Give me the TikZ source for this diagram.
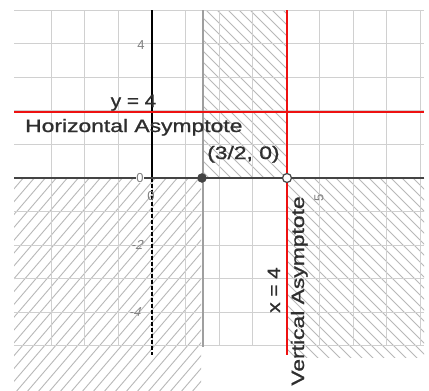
\documentclass[tikz,border=0pt]{standalone}
\usepackage{fontspec}
\setmainfont{Liberation Sans}
\newfontfamily\semib{Liberation Sans}[FakeBold=0.9]
\usepackage{graphicx}
\newcommand{\wtext}[2][1.27]{\scalebox{#1}[1]{#2}}
\definecolor{gridc}{HTML}{D0D0D0}
\definecolor{hatchc}{HTML}{B8B8B8}
\definecolor{axisc}{HTML}{444444}
\definecolor{txtc}{HTML}{2E2E2E}
\definecolor{lblc}{HTML}{808080}
\definecolor{asym}{HTML}{EE1111}
\begin{document}
\begin{tikzpicture}[x=1pt,y=-1pt,
  gridline/.style={draw=gridc,line width=1pt},
  hatchline/.style={draw=hatchc,line width=0.9pt},
  bigtext/.style={text=txtc,font=\semib\fontsize{18}{18}\selectfont,inner sep=0pt},
  axlabel/.style={text=lblc,font=\fontsize{13}{13}\selectfont,inner sep=0pt},
  redline/.style={draw=asym,line width=2pt}]
\useasboundingbox (0,0) rectangle (429,391);
\fill[white] (0,0) rectangle (429,391);
% hatching
\begin{scope}
  \clip (14,178) rectangle (201,391);
  \foreach \i in {-420,-409,...,220} \draw[hatchline] (\i,400) -- ++(240,-280);
\end{scope}
\begin{scope}
  \clip (203,10) rectangle (287,178);
  \foreach \i in {-200,-189,...,300} \draw[hatchline] (\i,0) -- ++(200,200);
\end{scope}
\begin{scope}
  \clip (287,178) rectangle (424,357);
  \foreach \i in {-200,-189,...,440} \draw[hatchline] (\i,170) -- ++(200,200);
\end{scope}
% grid
\foreach \k in {-3,...,8} \draw[gridline] (152+33.55*\k,10) -- (152+33.55*\k,346);
\foreach \k in {-5,...,5} \draw[gridline] (14,178-33.55*\k) -- (424,178-33.55*\k);
% gray vertical at x = 3/2
\draw[draw=gray!75,line width=2.4pt] (203,10) -- (203,347);
% y axis
\draw[black,line width=1.8pt] (152,10) -- (152,178);
\draw[black,line width=1.8pt,dash pattern=on 4pt off 2pt] (152,178) -- (152,355);
% x axis
\draw[axisc,line width=2.6pt] (14,178) -- (424,178);
% asymptotes
\draw[redline] (14,112) -- (424,112);
\draw[redline] (287,10) -- (287,355);
% points
\node[circle,fill=axisc,draw=axisc,inner sep=0pt,minimum size=9pt] (p1) at (202,178) {};
\node[circle,fill=white,draw=axisc,line width=1.2pt,inner sep=0pt,minimum size=9pt] (p2) at (287,178) {};
% axis labels
\node[axlabel] (l4) at (141,45) {4};
\node[axlabel,xslant=0.3] (lm2) at (138,245) {-2};
\node[axlabel,xslant=0.3] (lm4) at (136,312) {-4};
\node[axlabel,fill=white,inner sep=0.5pt] (l0a) at (140,178) {0};
\node[axlabel] (l0b) at (151,196) {0};
\node[axlabel,rotate=90] (l5) at (319,198) {5};
% texts
\node[bigtext,anchor=base] (yeq) at (133.5,107) {\wtext[1.15]{y = 4}};
\node[bigtext,anchor=base west] (ha) at (25,132) {\wtext{Horizontal Asymptote}};
\node[bigtext,anchor=base west] (pt) at (207,159) {\wtext{(3/2, 0)}};
\node[bigtext,anchor=base,rotate=90] (xeq) at (280,290) {\wtext[1.15]{x = 4}};
\node[bigtext,anchor=base,rotate=90] (va) at (304,291) {\wtext{Vertical Asymptote}};
\end{tikzpicture}
\end{document}
